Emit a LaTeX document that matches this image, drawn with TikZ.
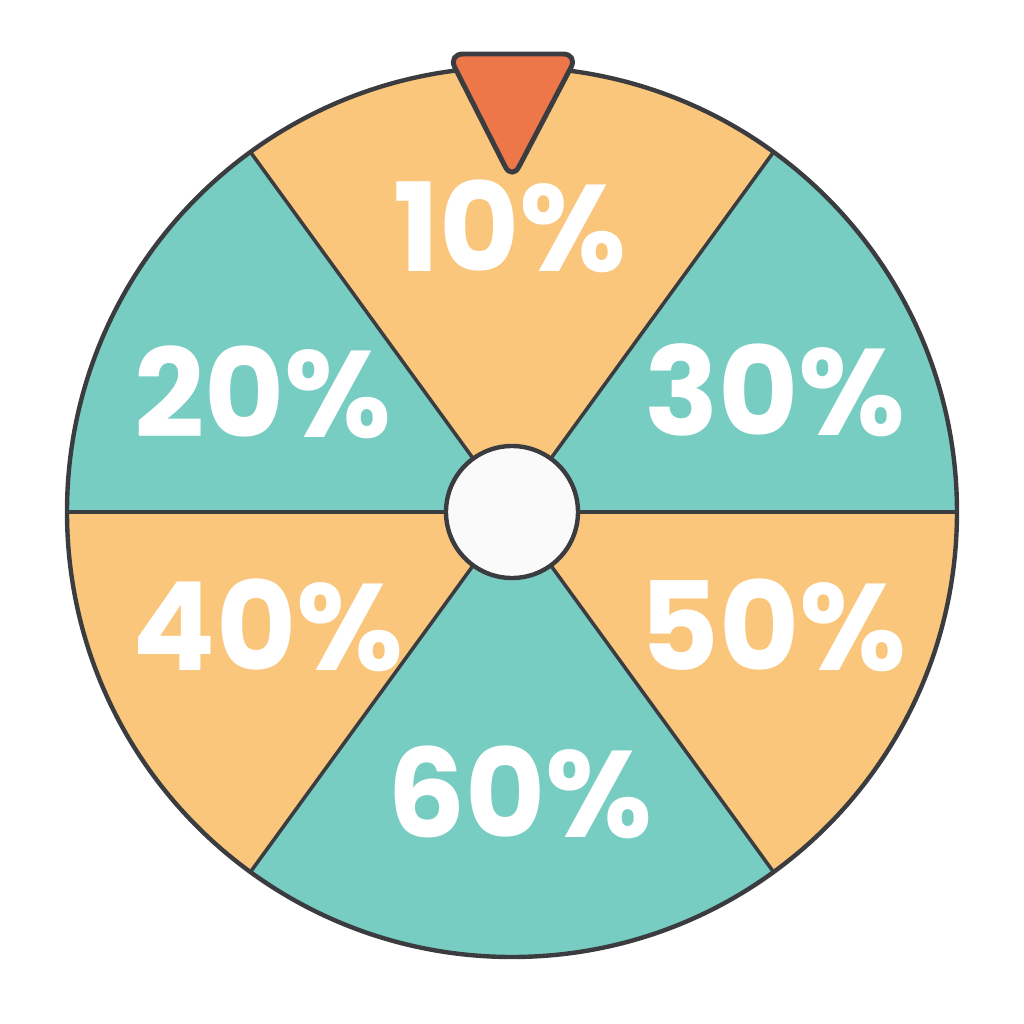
\documentclass[tikz,border=0pt]{standalone}
\usepackage{fontspec}
\setsansfont{Poppins}
\usetikzlibrary{positioning}
\definecolor{wheelorange}{HTML}{F9C67C}
\definecolor{wheelteal}{HTML}{78CDC3}
\definecolor{wheeledge}{HTML}{3A3C3F}
\definecolor{pointerred}{HTML}{EE774A}
\definecolor{hubwhite}{HTML}{FAFAFA}

\begin{document}
\begin{tikzpicture}[
  sector/.style={draw=wheeledge, line width=1pt, line join=round},
  pct/.style={font=\sffamily\bfseries\fontsize{35}{38}\selectfont,
    text=white, inner sep=0pt},
  rim/.style={draw=wheeledge, line width=1.25pt},
]
  \useasboundingbox (-5.12,-5.12) rectangle (5.12,5.12);
  % Sectors
  \foreach \a/\b/\col in {54/126/wheelorange, 126/180/wheelteal,
      0/54/wheelteal, 180/234/wheelorange, -54/0/wheelorange,
      234/306/wheelteal}
    \fill[\col] (0,0) -- (\a:4.45) arc[start angle=\a, end angle=\b,
      radius=4.45] -- cycle;
  % Spokes
  \foreach \a in {0,54,126,180,234,306}
    \draw[sector] (0,0) -- (\a:4.45);
  % Rim
  \draw[rim] (0,0) circle[radius=4.45];
  % Labels
  \foreach \x/\y/\lab/\nm in {-0.02/2.86/10/ten, -2.49/1.2/20/twenty,
      2.63/1.22/30/thirty, -2.44/-1.13/40/forty, 2.61/-1.13/50/fifty,
      0.08/-2.8/60/sixty}
    \node[pct] (\nm) at (\x,\y) {\lab\%};
  % Hub
  \node[circle, draw=wheeledge, line width=1.25pt, fill=hubwhite,
    minimum size=1.32cm, inner sep=0pt] (hub) at (0,0) {};
  % Pointer
  \draw[draw=wheeledge, fill=pointerred, line width=1.4pt,
    rounded corners=1.5mm, line join=round]
    (-0.64,4.58) -- (0.66,4.58) -- (0,3.32) -- cycle;
\end{tikzpicture}
\end{document}
